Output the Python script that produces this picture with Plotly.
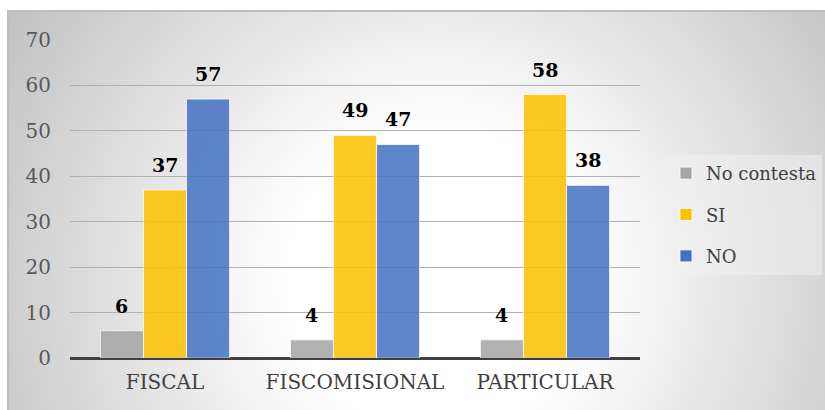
import base64
import plotly.graph_objects as go

# Survey answers by institution type
categories = ["FISCAL", "FISCOMISIONAL", "PARTICULAR"]
no_contesta = [6, 4, 4]
si = [37, 49, 58]
no = [57, 47, 38]

y_ticks = [0, 10, 20, 30, 40, 50, 60, 70]

W, H = 825, 410
ML, MR, MT, MB = 70, 185, 40, 52
plot_w = W - ML - MR
plot_h = H - MT - MB

SERIF = "DejaVu Serif"
BARGAP = 0.32

fig = go.Figure()

series = [
    ("No contesta", no_contesta, "#a5a5a5"),
    ("SI", si, "#ffc000"),
    ("NO", no, "#4472c4"),
]
n_series = len(series)
bar_w = (1 - BARGAP) / n_series

for j, (name, vals, color) in enumerate(series):
    fig.add_trace(go.Bar(
        name=name,
        x=categories,
        y=vals,
        legendgroup=name,
        marker=dict(color=color, opacity=0.85,
                    line=dict(color="rgba(255,255,255,0.8)", width=1)),
    ))
    # bold value label above each bar
    offset = (j - (n_series - 1) / 2) * bar_w
    for i, v in enumerate(vals):
        fig.add_annotation(
            x=i + offset, y=v, xref="x", yref="y",
            text=f"<b>{v}</b>", showarrow=False,
            yanchor="bottom", yshift=12,
            font=dict(family=SERIF, size=19, color="#000000"),
        )

# Radial-gradient chart area background drawn as an inline SVG image
bx0, by0, bw, bh = 7, 10, 818, 400
svg = (
    f'<svg xmlns="http://www.w3.org/2000/svg" width="{bw}" height="{bh}" '
    f'viewBox="0 0 {bw} {bh}" preserveAspectRatio="none">'
    '<defs><radialGradient id="g" cx="430" cy="270" r="500" gradientUnits="userSpaceOnUse">'
    '<stop offset="0" stop-color="#ffffff"/>'
    '<stop offset="0.3" stop-color="#ffffff"/>'
    '<stop offset="1" stop-color="#c2c2c2"/>'
    '</radialGradient></defs>'
    f'<rect x="0" y="0" width="{bw}" height="{bh}" fill="url(#g)"/>'
    f'<line x1="0" y1="1" x2="{bw}" y2="1" stroke="#bdbdbd" stroke-width="2"/>'
    f'<line x1="1" y1="0" x2="1" y2="{bh}" stroke="#bdbdbd" stroke-width="2"/>'
    '</svg>'
)
src = "data:image/svg+xml;base64," + base64.b64encode(svg.encode()).decode()

fig.add_layout_image(dict(
    source=src,
    xref="paper", yref="paper",
    x=(bx0 - ML) / plot_w,
    y=(H - MB - by0) / plot_h,
    sizex=bw / plot_w,
    sizey=bh / plot_h,
    xanchor="left", yanchor="top",
    sizing="stretch",
    layer="below",
))

fig.update_layout(
    width=W, height=H,
    margin=dict(l=ML, r=MR, t=MT, b=MB, autoexpand=False),
    paper_bgcolor="#ffffff",
    plot_bgcolor="rgba(0,0,0,0)",
    barmode="group",
    bargap=BARGAP,
    bargroupgap=0.0,
    showlegend=True,
    legend=dict(
        x=(666 - ML) / plot_w, y=0.45,
        xanchor="left", yanchor="middle",
        font=dict(family=SERIF, size=18, color="#404040"),
        bgcolor="rgba(240,240,240,0.55)",
        tracegroupgap=15,
        itemwidth=30,
    ),
    font=dict(family=SERIF),
)

fig.update_yaxes(
    range=[0, 70],
    tickvals=y_ticks,
    showgrid=True,
    gridcolor="#b0b0b0",
    gridwidth=1,
    zeroline=True,
    zerolinecolor="#404040",
    zerolinewidth=3,
    tickfont=dict(family=SERIF, size=20, color="#595959"),
    ticks="",
    ticklabelstandoff=18,
)
fig.update_xaxes(
    tickfont=dict(family=SERIF, size=20, color="#404040"),
    ticks="",
    showline=False,
    ticklabelstandoff=10,
)

fig.write_html("out.html")
